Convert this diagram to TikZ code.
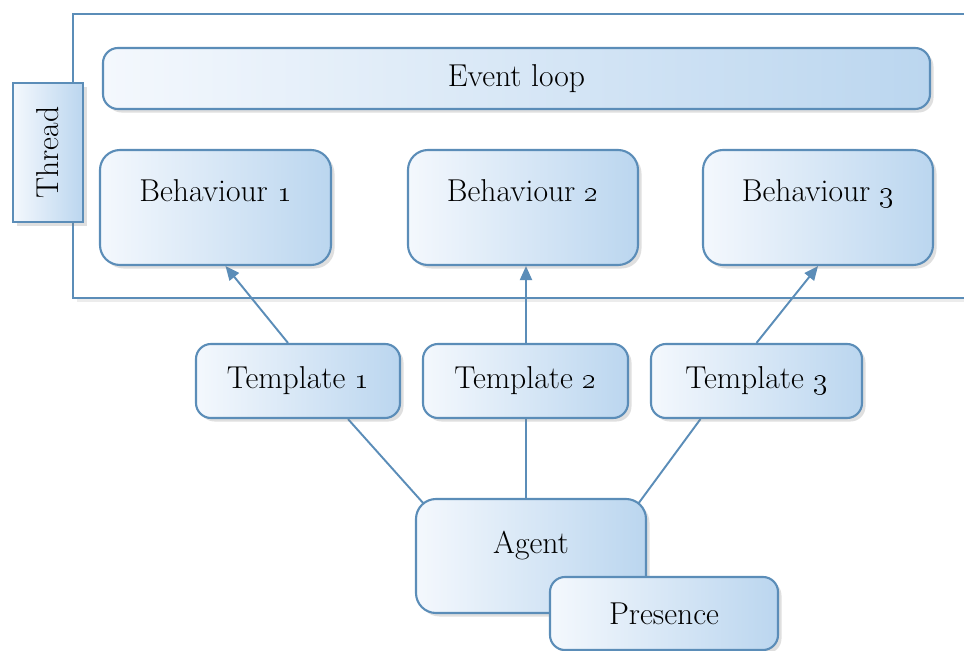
\documentclass[tikz,border=0pt]{standalone}
\usepackage{xcolor}
\usepackage{tikz}
\usetikzlibrary{arrows.meta,positioning,shadows,backgrounds,calc}
\definecolor{EdgeBlue}{HTML}{5B8DB8}
\definecolor{FillLight}{HTML}{F4F8FD}
\definecolor{FillBlue}{HTML}{BBD6EF}

\begin{document}
\begin{tikzpicture}[
        box/.style={rectangle, draw=EdgeBlue, line width=1.2pt,
                    left color=FillLight, right color=FillBlue,
                    rounded corners=#1, align=center,
                    font=\fontsize{18}{21}\selectfont,
                    drop shadow={opacity=0.25, shadow xshift=2pt, shadow yshift=-2pt}},
        box/.default=0.4cm,
        arr/.style={-{Triangle[length=0.28cm, width=0.24cm]}, draw=EdgeBlue, line width=1.1pt},
        link/.style={draw=EdgeBlue, line width=1.1pt},
      ]
      \useasboundingbox (0,0) rectangle (19.28,-13.02);
      \clip (0,0) rectangle (19.28,-13.02);
      % behaviours
      \node[box, minimum width=4.62cm, minimum height=2.3cm, text depth=0.66cm] (b1) at (4.31,-4.15)
        {Behaviour \oldstylenums{1}};
      \node[box, minimum width=4.6cm, minimum height=2.3cm, text depth=0.66cm] (b2) at (10.46,-4.15)
        {Behaviour \oldstylenums{2}};
      \node[box, minimum width=4.6cm, minimum height=2.3cm, text depth=0.66cm] (b3) at (16.36,-4.15)
        {Behaviour \oldstylenums{3}};
      % templates
      \node[box=0.3cm, minimum width=4.08cm, minimum height=1.48cm] (t1) at (5.96,-7.62)
        {Template \oldstylenums{1}};
      \node[box=0.3cm, minimum width=4.1cm, minimum height=1.48cm] (t2) at (10.51,-7.62)
        {Template \oldstylenums{2}};
      \node[box=0.3cm, minimum width=4.22cm, minimum height=1.48cm] (t3) at (15.13,-7.62)
        {Template \oldstylenums{3}};
      % agent
      \node[box, minimum width=4.6cm, minimum height=2.28cm, text depth=0.54cm] (ag) at (10.62,-11.12)
        {Agent};
      \node[box=0.3cm, minimum width=4.56cm, minimum height=1.46cm] (pr) at (13.28,-12.27)
        {Presence};
      % event loop + thread
      \node[box=0.3cm, minimum width=16.54cm, minimum height=1.22cm] (loop) at (10.33,-1.57)
        {Event loop};
      \begin{scope}[on background layer]
        \draw[EdgeBlue, line width=1.2pt, fill=white,
              drop shadow={opacity=0.15, shadow xshift=2pt, shadow yshift=-2pt}]
          (1.46,-0.28) rectangle (19.6,-5.96);
        \draw[arr]  ([xshift=-0.2cm]t1.north) -- ([xshift=0.2cm]b1.south);
        \draw[arr]  ([xshift=0.01cm]t2.north) -- ([xshift=0.01cm]t2.north |- b2.south);
        \draw[arr]  (t3.north) -- (b3.south);
        \draw[link] ([xshift=1.0cm]t1.south) -- ([shift={(0.18cm,-0.12cm)}]ag.north west);
        \draw[link] ([xshift=0.01cm]t2.south) -- ([xshift=0.01cm]t2.south |- ag.north);
        \draw[link] ([xshift=-1.12cm]t3.south) -- ([shift={(-0.18cm,-0.12cm)}]ag.north east);
      \end{scope}
      \node[box=0pt, rotate=90, minimum width=2.78cm, minimum height=1.4cm] (thr) at (0.96,-3.05)
        {Thread};
    \end{tikzpicture}
\end{document}
